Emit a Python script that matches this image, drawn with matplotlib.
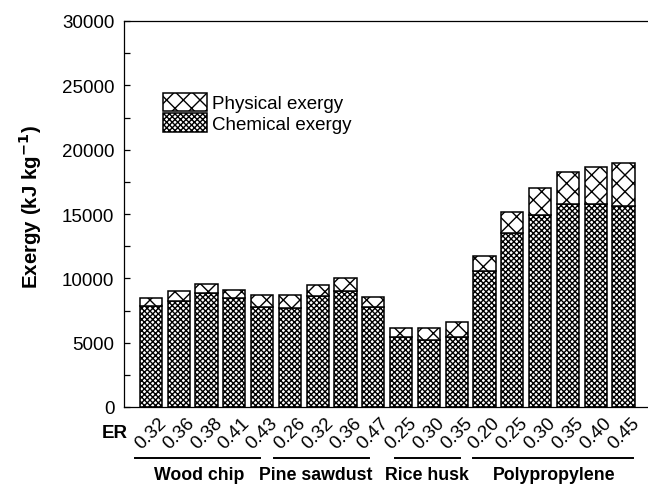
import matplotlib
matplotlib.use("Agg")
import matplotlib.pyplot as plt
from matplotlib.ticker import MultipleLocator
import matplotlib.transforms as mtransforms

# Feedstocks and equivalence ratios
groups = ["Wood chip", "Pine sawdust", "Rice husk", "Polypropylene"]
group_er = [
    ["0.32", "0.36", "0.38", "0.41", "0.43"],
    ["0.26", "0.32", "0.36", "0.47"],
    ["0.25", "0.30", "0.35"],
    ["0.20", "0.25", "0.30", "0.35", "0.40", "0.45"],
]

# Exergy of the syngas (kJ/kg)
chemical = [7830, 8260, 8830, 8450, 7750,
            7690, 8600, 8990, 7750,
            5470, 5230, 5420,
            10600, 13500, 14920, 15780, 15780, 15650]
physical = [620, 760, 760, 670, 950,
            990, 880, 1060, 830,
            640, 880, 1210,
            1140, 1660, 2080, 2510, 2870, 3290]

# Bracket layout under the tick labels (offsets from first/last bar, label shift)
bracket_pad = [(-0.58, -0.08), (-0.58, -0.16), (-0.22, 0.10), (-0.42, 0.34)]
label_shift = [-0.27, -0.56, -0.07, 0.01]

plt.rcParams["font.family"] = ["Liberation Sans", "DejaVu Sans"]
plt.rcParams["font.size"] = 13.5
plt.rcParams["hatch.linewidth"] = 1.0

fig = plt.figure(figsize=(6.48, 4.85), dpi=100)
ax = fig.add_axes([124 / 648, 77 / 485, 524 / 648, 386 / 485])

tick_labels = [er for g in group_er for er in g]
x = list(range(len(tick_labels)))

ax.bar(x, chemical, width=0.8, color="white", edgecolor="black",
       linewidth=1.1, hatch="xxxxxx", label="Chemical exergy", zorder=2)
ax.bar(x, physical, width=0.8, bottom=chemical, color="white",
       edgecolor="black", linewidth=1.1, hatch="xx",
       label="Physical exergy", zorder=2)

ax.set_xlim(-0.97, 17.88)
ax.set_ylim(0, 30000)
ax.yaxis.set_major_locator(MultipleLocator(5000))
ax.yaxis.set_minor_locator(MultipleLocator(2500))
ax.set_xticks(x)
ax.set_xticklabels(tick_labels, rotation=45, ha="center")

ax.tick_params(axis="y", which="both", direction="in", length=4, width=0.9, pad=7)
ax.tick_params(axis="x", which="both", direction="in", length=4, width=0.9, pad=5)
for side in ("left", "bottom", "top"):
    ax.spines[side].set_linewidth(0.9)
ax.spines["right"].set_visible(False)

ax.set_ylabel("Exergy (kJ kg$^{\\mathbf{-1}}$)", fontweight="bold",
              fontsize=14.8)
ax.yaxis.set_label_coords(-0.153, 0.52)

handles, labels = ax.get_legend_handles_labels()
ax.legend(handles[::-1], labels[::-1], loc="upper left",
          bbox_to_anchor=(0.0744, 0.8135), frameon=False, borderpad=0,
          borderaxespad=0, handlelength=2.35, handleheight=1.12,
          handletextpad=0.27, labelspacing=0.05)

# Group brackets under the tick labels
trans = mtransforms.blended_transform_factory(ax.transData, ax.transAxes)
start = 0
for name, ers, (p0, p1), shift in zip(groups, group_er, bracket_pad, label_shift):
    first, last = start, start + len(ers) - 1
    x0, x1 = first + p0, last + p1
    ax.plot([x0, x1], [-0.132, -0.132], color="black", linewidth=1.4,
            transform=trans, clip_on=False)
    ax.text((first + last) / 2 + shift, -0.174, name, transform=trans,
            ha="center", va="center", fontweight="bold", fontsize=12.8)
    start += len(ers)

fig.text(115 / 648, 1 - 434 / 485, "ER", ha="center", va="center",
         fontweight="bold")

fig.savefig("out.png", dpi=100)
